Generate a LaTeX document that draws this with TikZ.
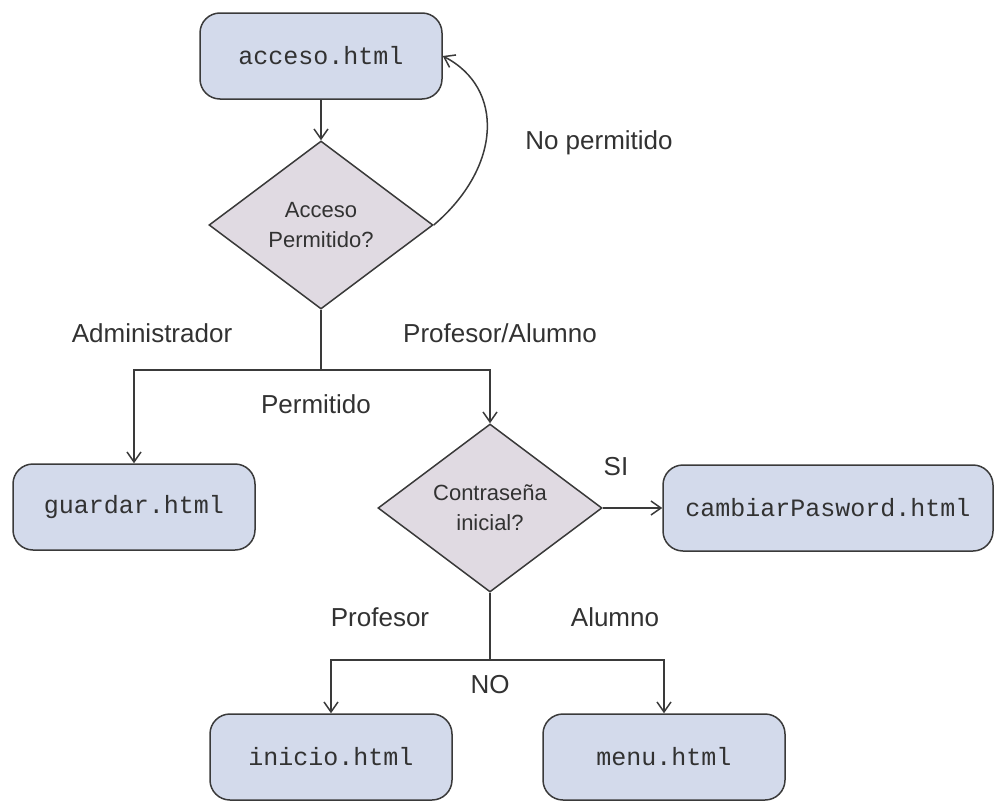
\documentclass[tikz,border=0pt]{standalone}
\usepackage{fontspec}
\setmainfont{Liberation Sans}
\setmonofont{Liberation Mono}
\usepackage{tikz}
\usetikzlibrary{arrows.meta}
\usetikzlibrary{shapes.geometric}

\definecolor{pagefill}{RGB}{211,218,235}
\definecolor{testfill}{RGB}{224,218,226}
\definecolor{inkgrey}{RGB}{58,58,58}
\definecolor{textgrey}{RGB}{50,50,50}

\tikzset{>={Straight Barb[length=10pt,width=14pt]}}
\tikzset{
  page/.style={draw=inkgrey, line width=1.5pt, fill=pagefill, rounded corners=20pt,
    minimum width=242pt, minimum height=86pt, text=textgrey,
    font=\ttfamily\fontsize{25}{30}\selectfont},
  test/.style={diamond, draw=inkgrey, line width=1.5pt, fill=testfill, inner sep=0pt,
    minimum width=224pt, minimum height=168pt, align=center, text=textgrey,
    font=\fontsize{22}{30}\selectfont},
  rama/.style={text=textgrey, font=\fontsize{26}{30}\selectfont},
  flujo/.style={draw=inkgrey, line width=1.5pt, ->}
}

\begin{document}
\begin{tikzpicture}[x=1pt,y=-1pt]
    \useasboundingbox (0,0) rectangle (994,803);

    %acceso
    \node[page] (acceso) at (321,56) {acceso.html};
    \node[test] (permitido) at (321,225) {Acceso\\Permitido?};
    \draw[flujo] (acceso) -- (permitido);

    %no permitido
    \draw[flujo] (permitido.east) .. controls +(68,-58) and +(62,32) .. (acceso.east);
    \draw (599,143) node[rama] (nopermitido) {No permitido};

    %permitido
    \coordinate (j1) at (321,370);
    \node[page] (guardar) at (134,507) {guardar.html};
    \node[test] (inicial) at (490,508) {Contraseña\\inicial?};
    \draw[flujo, -] (permitido.south) -- (j1);
    \draw[flujo] (j1) -| (guardar.north);
    \draw[flujo] (j1) -| (inicial.north);
    \draw (152,333) node[rama] (admin) {Administrador};
    \draw (500,333) node[rama] (profalum) {Profesor/Alumno};
    \draw (316,404) node[rama] (perm) {Permitido};

    %SI
    \node[page, minimum width=330pt] (cambiar) at (828,508) {cambiarPasword.html};
    \draw[flujo] (inicial.east) -- (cambiar.west);
    \draw (616,467) node[rama] (si) {SI};

    %NO
    \coordinate (j2) at (490,660);
    \node[page] (inicio) at (331,757) {inicio.html};
    \node[page] (menu) at (664,757) {menu.html};
    \draw[flujo, -] (inicial.south) -- (j2);
    \draw[flujo] (j2) -| (inicio.north);
    \draw[flujo] (j2) -| (menu.north);
    \draw (380,617) node[rama] (profesor) {Profesor};
    \draw (615,617) node[rama] (alumno) {Alumno};
    \draw (490,685) node[rama] (no) {NO};
\end{tikzpicture}
\end{document}
